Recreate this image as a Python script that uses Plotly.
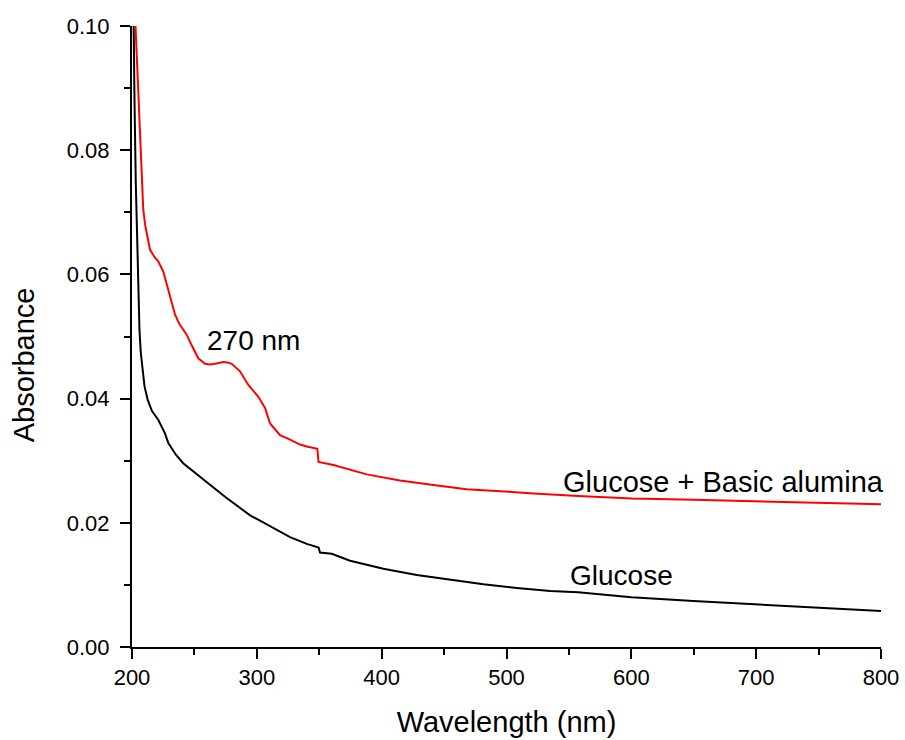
import plotly.graph_objects as go

# Glucose (black)
wl_glucose = [200.5, 201, 202, 203, 204, 205, 206, 207, 208, 210, 212.6, 216, 221, 226.4, 229, 235, 241,
              254.5, 274.5, 294.6, 310.6, 326.6, 340, 348, 349.5, 350.6, 360, 374.7, 401.4, 428.1,
              454.8, 481.5, 508.2, 535, 557.4, 600, 649.7, 700, 750, 800]
abs_glucose = [0.115, 0.100, 0.088, 0.075, 0.066, 0.057, 0.051, 0.0475, 0.0453, 0.042, 0.0398, 0.038, 0.0366,
               0.0344, 0.0329, 0.031, 0.0296, 0.0274, 0.0242, 0.0212, 0.0194, 0.0177, 0.0166, 0.0161,
               0.0160, 0.0152, 0.0150, 0.0139, 0.0126, 0.0116, 0.0108, 0.0101, 0.0095, 0.0090, 0.0088,
               0.0080, 0.0074, 0.0069, 0.0064, 0.0058]

# Glucose + Basic alumina (red)
wl_alumina = [202.3, 202.8, 204.5, 206, 207.5, 209, 210.5, 212, 214.4, 218, 221, 225, 230.4, 234.5, 238,
              243.8, 248, 253.1, 258.5, 262, 266.5, 270, 273.2, 276.5, 279.9, 286.5, 293.2, 301.2,
              306.6, 310.6, 316, 318.6, 326.6, 334.6, 340, 346.6, 348.5, 349.4, 355, 361.4, 388,
              414.7, 441.4, 468, 494.9, 521.6, 557.6, 600.4, 650, 700.6, 750, 800]
abs_alumina = [0.105, 0.100, 0.092, 0.085, 0.077, 0.0705, 0.068, 0.0663, 0.064, 0.0628, 0.0621, 0.0605,
               0.0565, 0.0535, 0.052, 0.0503, 0.0485, 0.0465, 0.0456, 0.0455, 0.0456, 0.0458, 0.0459,
               0.0458, 0.0456, 0.0444, 0.0422, 0.0403, 0.0385, 0.0360, 0.0347, 0.0341, 0.0334, 0.0326,
               0.0323, 0.0320, 0.0319, 0.0298, 0.0296, 0.0293, 0.0278, 0.0268, 0.0261, 0.0254, 0.0251,
               0.0247, 0.0243, 0.0239, 0.0237, 0.0235, 0.0233, 0.0230]

x_ticks = [200, 300, 400, 500, 600, 700, 800]
y_ticks = [0.00, 0.02, 0.04, 0.06, 0.08, 0.10]
y_ticklabels = ["0.00", "0.02", "0.04", "0.06", "0.08", "0.10"]

FONT = "Liberation Sans, Arial, sans-serif"

fig = go.Figure()
fig.add_trace(go.Scatter(x=wl_glucose, y=abs_glucose, mode="lines",
                         line=dict(color="black", width=2), name="Glucose"))
fig.add_trace(go.Scatter(x=wl_alumina, y=abs_alumina, mode="lines",
                         line=dict(color="#ff0000", width=2), name="Glucose + Basic alumina"))

axis_common = dict(showline=True, linecolor="black", linewidth=2, ticks="outside",
                   ticklen=10, tickwidth=2, tickcolor="black", showgrid=False, zeroline=False,
                   mirror=False, automargin=False,
                   tickfont=dict(family=FONT, size=22, color="black"))

fig.update_xaxes(range=[200, 800], tickvals=x_ticks, ticktext=[str(v) for v in x_ticks],
                 minor=dict(ticks="outside", ticklen=6, tickwidth=2, tickcolor="black", dtick=50,
                            tick0=200, showgrid=False),
                 title=dict(text="Wavelength (nm)", font=dict(family=FONT, size=29, color="black"),
                            standoff=22),
                 **axis_common)
fig.update_yaxes(range=[0, 0.1], tickvals=y_ticks, ticktext=y_ticklabels, ticklabelstandoff=6,
                 minor=dict(ticks="outside", ticklen=6, tickwidth=2, tickcolor="black", dtick=0.01,
                            tick0=0, showgrid=False),
                 **axis_common)

fig.add_annotation(text="Absorbance", xref="paper", yref="paper", x=-0.143, y=0.455,
                   textangle=-90, showarrow=False, xanchor="center", yanchor="middle",
                   font=dict(family=FONT, size=29, color="black"))
fig.add_annotation(text="270 nm", x=297, y=0.0493, xref="x", yref="y", showarrow=False,
                   font=dict(family=FONT, size=28, color="black"))
fig.add_annotation(text="Glucose + Basic alumina", x=673.6, y=0.0266, xref="x", yref="y",
                   showarrow=False, font=dict(family=FONT, size=29, color="black"))
fig.add_annotation(text="Glucose", x=592, y=0.0115, xref="x", yref="y", showarrow=False,
                   font=dict(family=FONT, size=28, color="black"))

fig.update_layout(width=905, height=740, margin=dict(l=132, r=24, t=26, b=93),
                  paper_bgcolor="white", plot_bgcolor="white", showlegend=False)

fig.write_html("out.html")
